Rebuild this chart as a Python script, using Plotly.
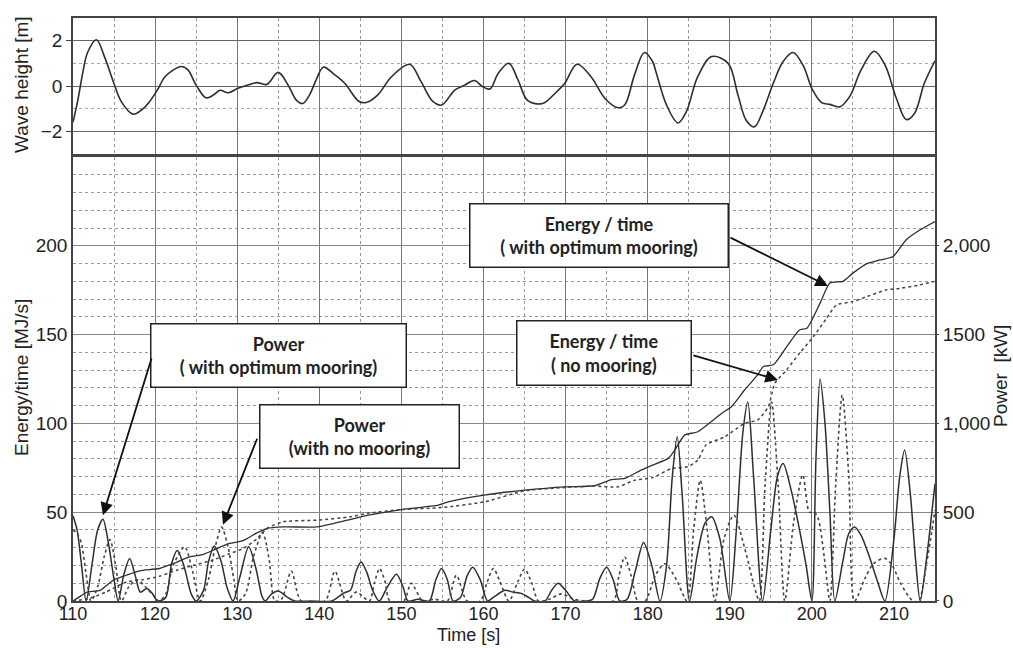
import plotly.graph_objects as go

# ---------------- data ----------------
wave_t = [110.0, 110.6, 111.2, 111.8, 112.85, 113.9, 114.9, 115.9, 117.3, 118.3, 119.3, 120.4,
          121.2, 123.2, 124.0, 125.0, 126.2, 127.1, 127.9, 128.9, 130.1, 131.3, 132.4, 133.6,
          135.0, 136.2, 137.2, 138.0, 138.8, 139.7, 140.5, 141.9, 143.1, 144.8, 145.7, 147.1,
          148.8, 151.0, 152.4, 153.8, 154.9, 156.5, 157.7, 158.9, 159.9, 160.8, 161.8, 163.1,
          164.2, 165.4, 167.2, 168.7, 169.9, 171.4, 173.1, 174.8, 176.4, 177.2, 178.4, 179.6,
          180.6, 181.0, 182.3, 183.7, 184.7, 186.1, 187.8, 189.8, 191.0, 192.0, 193.0, 194.0,
          195.3, 196.5, 197.7, 198.9, 200.1, 201.2, 202.2, 203.4, 204.6, 206.0, 207.6, 208.9,
          210.3, 211.5, 212.5, 213.7, 215.0]
wave_h = [-1.6, -0.6, 0.6, 1.5, 2.04, 1.23, 0.2, -0.7, -1.24, -1.07, -0.7, -0.1,
          0.41, 0.86, 0.71, 0.04, -0.52, -0.4, -0.19, -0.3, -0.1, 0.04, 0.15, 0.07,
          0.6, 0.04, -0.62, -0.77, -0.4, 0.34, 0.83, 0.49, 0.12, -0.67, -0.73, -0.4,
          0.41, 0.96, 0.19, -0.67, -0.84, -0.18, 0.04, 0.24, -0.03, -0.13, 0.56, 1.0,
          0.27, -0.65, -0.77, -0.33, 0.12, 0.96, 0.41, -0.55, -0.96, -0.84, 0.49, 1.48,
          1.08, 0.64, -0.84, -1.63, -1.14, 0.41, 1.3, 1.0, -0.4, -1.51, -1.8, -1.14,
          0.12, 1.08, 1.48, 0.93, -0.18, -0.73, -0.81, -0.92, -0.47, 0.71, 1.53, 0.93,
          -0.55, -1.48, -1.21, 0.12, 1.11]

# Power with optimum mooring [kW]
pow_opt_t = [110.0, 110.5, 111.0, 111.6, 112.3, 113.0, 113.65, 114.3, 115.0, 115.5, 116.2, 116.9,
             117.6, 118.2, 119.0, 119.7, 120.3, 121.3, 122.0, 122.7, 123.5, 124.4, 125.0, 125.9,
             126.5, 127.2, 128.0, 128.8, 129.5, 130.3, 131.4, 132.3, 133.0, 133.4, 134.2, 135.0,
             136.0, 137.0, 139.0, 141.5, 143.0, 143.8, 144.5, 145.1, 145.8, 146.5, 147.3, 148.3,
             149.4, 150.2, 150.8, 152.0, 153.4, 154.2, 154.9, 155.6, 156.3, 157.2, 158.0, 158.7,
             159.6, 160.5, 161.2, 162.6, 163.6, 164.6, 165.5, 166.2, 167.5, 168.3, 169.1, 170.0,
             171.1, 172.5, 173.3, 174.2, 175.0, 175.8, 176.6, 177.5, 178.5, 179.5, 180.5, 181.5,
             182.3, 183.0, 183.6, 184.2, 185.1, 186.0, 187.0, 187.8, 188.8, 190.0, 190.8, 191.6,
             192.2, 192.9, 194.0, 195.0, 195.8, 196.5, 197.5, 198.5, 199.3, 200.0, 200.5, 201.0,
             201.6, 202.2, 202.8, 203.8, 204.5, 205.2, 206.0, 207.0, 208.0, 208.9, 210.0, 210.7,
             211.3, 212.0, 212.6, 213.2, 214.0, 214.5, 215.0]
pow_opt_v = [480, 400, 220, 0, 200, 400, 460, 330, 120, 0, 150, 240,
             140, 50, 70, 40, 0, 20, 210, 285, 200, 40, 0, 60,
             220, 310, 230, 70, 0, 130, 305, 180, 30, 0, 40, 56,
             25, 0, 0, 0, 45, 60, 170, 220, 160, 60, 0, 80,
             150, 80, 0, 10, 0, 120, 183, 120, 0, 20, 140, 190,
             120, 0, 20, 60, 50, 43, 20, 0, 0, 60, 100, 60,
             0, 0, 10, 130, 190, 120, 0, 10, 170, 330, 200, 0,
             200, 700, 925, 600, 0, 250, 440, 474, 350, 0, 400, 950,
             1120, 700, 0, 400, 700, 774, 620, 400, 200, 0, 800, 1250,
             1000, 500, 0, 230, 380, 417, 370, 250, 110, 0, 350, 700,
             850, 600, 250, 0, 250, 450, 660]

# Power with no mooring [kW]
pow_no_t = [110.0, 110.5, 111.0, 111.6, 112.2, 113.0, 113.8, 114.5, 115.2, 115.9, 116.8, 117.8,
            118.8, 119.8, 120.5, 121.3, 122.2, 123.6, 124.5, 125.5, 126.5, 127.3, 128.1, 128.9,
            129.6, 130.1, 131.0, 132.0, 133.1, 133.9, 134.6, 135.4, 136.6, 137.8, 140.7, 141.9,
            143.3, 144.5, 146.1, 146.7, 147.35, 148.0, 148.6, 150.3, 151.2, 152.6, 154.0, 155.6,
            156.7, 158.0, 159.6, 160.4, 161.2, 162.0, 163.1, 164.2, 165.0, 165.9, 166.7, 168.0,
            169.5, 171.0, 172.5, 175.8, 176.5, 177.2, 178.0, 178.8, 179.7, 181.0, 182.1, 183.5,
            184.8, 185.6, 186.4, 187.2, 188.2, 189.3, 190.5, 191.8, 193.0, 193.6, 194.3, 195.1,
            195.9, 196.7, 197.8, 198.9, 199.7, 200.3, 200.8, 201.5, 202.2, 202.9, 203.7, 204.5,
            205.2, 206.5, 207.5, 208.9, 209.8, 210.8, 212.3, 213.0, 214.0, 215.0]
pow_no_v = [400, 380, 330, 150, 0, 80, 250, 346, 200, 0, 80, 120,
            80, 30, 0, 40, 200, 305, 180, 0, 120, 300, 416, 300,
            120, 0, 40, 250, 385, 230, 0, 10, 168, 0, 0, 168,
            0, 50, 0, 100, 183, 110, 0, 0, 100, 0, 10, 0,
            145, 0, 0, 100, 183, 110, 0, 110, 180, 100, 0, 10,
            40, 10, 0, 0, 140, 248, 140, 0, 0, 150, 210, 120,
            0, 400, 680, 420, 0, 350, 483, 300, 80, 0, 650, 1120,
            650, 0, 450, 710, 500, 500, 460, 250, 0, 650, 1160, 700,
            0, 130, 210, 240, 200, 100, 0, 0, 220, 510]

# Energy / time with optimum mooring [MJ/s]
en_opt_t = [110, 111, 111.7, 113.3, 114.9, 116.5, 118.1, 120.5, 122.2, 124.2, 125.9, 127.5,
            129.1, 130.7, 132.4, 133.6, 135.6, 139.7, 141.7, 144.2, 146, 150, 154.5, 155.7,
            160.1, 165, 169.9, 173.5, 175.6, 177.2, 179.2, 180.6, 182.5, 183.3, 184.5, 186.1,
            189, 190.2, 191.8, 193.4, 194.1, 195.3, 196.9, 198.5, 199.4, 201, 202.2, 203.8,
            205, 206.7, 208.3, 209.9, 211.5, 213.2, 215]
en_opt_v = [0, 3, 5, 6, 11.7, 14.5, 17, 18.3, 21, 24.8, 26.3, 29.5,
            32.4, 34, 38.4, 40.8, 41.7, 41.7, 43.6, 46.4, 48.3, 51.5, 54, 55.8,
            59.6, 62.4, 64.3, 64.9, 68.4, 69, 73.7, 76.5, 80.3, 85, 93.4, 95.3,
            105.6, 109.4, 118.8, 127.3, 132, 133, 143, 152.6, 153.6, 167.7, 179, 180,
            184.6, 190, 192, 194, 203.4, 209, 213.7]

# Energy / time with no mooring [MJ/s]
en_no_t = [110, 112, 114, 116.5, 118.5, 120.5, 122.6, 124.6, 127, 129.1, 130.7, 132.4,
           133.6, 135.6, 139.7, 143.8, 145.8, 150, 154.9, 160.1, 165, 169.9, 173.5, 176.4,
           178.4, 180.6, 182.9, 184.9, 186.1, 187.1, 189.4, 191.8, 193.4, 194.7, 195.5, 196.9,
           198.5, 200.2, 201.8, 203, 205, 206.7, 209.1, 210.7, 213.2, 215]
en_no_v = [0, 1.5, 5, 10.7, 12, 13.9, 17.3, 20, 23, 26.7, 29.5, 35,
           40.8, 44.6, 45.5, 47.4, 49.3, 51.5, 52.6, 55.8, 62, 63.9, 64.7, 64.3,
           68, 69.5, 74.6, 75.6, 79.3, 87.8, 92.5, 100, 101.9, 109.4, 122.6, 130,
           139.5, 148.9, 159.2, 166.7, 168.6, 171.4, 175.2, 176, 178, 180]

power_tickvals = [0, 500, 1000, 1500, 2000]
power_ticktext = ["0", "500", "1,000", "1500", "2,000"]

# ---------------- figure ----------------
SOLID = "#2e2e2e"
DASH = "#444444"
TICKFONT = dict(family="Liberation Sans, Arial, sans-serif", size=19, color="#222")
XTICKFONT = dict(family="Liberation Sans, Arial, sans-serif", size=18, color="#222")
BOXFONT = dict(family="Lato, Open Sans", size=18, color="#222")

fig = go.Figure()
fig.add_trace(go.Scatter(x=wave_t, y=wave_h, xaxis="x2", yaxis="y", mode="lines",
                         line=dict(color=SOLID, width=1.6, shape="spline", smoothing=1.0)))
fig.add_trace(go.Scatter(x=en_opt_t, y=en_opt_v, xaxis="x", yaxis="y2", mode="lines",
                         line=dict(color=SOLID, width=1.3, shape="spline", smoothing=0.6)))
fig.add_trace(go.Scatter(x=en_no_t, y=en_no_v, xaxis="x", yaxis="y2", mode="lines",
                         line=dict(color=DASH, width=1.5, dash="dot", shape="spline", smoothing=0.6)))
fig.add_trace(go.Scatter(x=pow_opt_t, y=pow_opt_v, xaxis="x", yaxis="y3", mode="lines",
                         line=dict(color=SOLID, width=1.5, shape="spline", smoothing=0.8)))
fig.add_trace(go.Scatter(x=pow_no_t, y=pow_no_v, xaxis="x", yaxis="y3", mode="lines",
                         line=dict(color=DASH, width=1.6, dash="dot", shape="spline", smoothing=0.8)))

frame = dict(showline=True, linecolor="#444", linewidth=1.5, mirror=True)

fig.update_layout(
    width=1013, height=648,
    margin=dict(l=73, r=78, t=18, b=47),
    paper_bgcolor="white", plot_bgcolor="white",
    showlegend=False,
    xaxis=dict(domain=[0, 1], anchor="y2", range=[110, 215], dtick=10, tick0=110,
               tickfont=XTICKFONT, ticks="", ticklabelstandoff=-4,
               showgrid=True, gridcolor="#777", gridwidth=1.2,
               minor=dict(dtick=5, tick0=110, showgrid=True, gridcolor="#999", gridwidth=1, griddash="dot"),
               zeroline=False, **frame),
    xaxis2=dict(domain=[0, 1], anchor="y", matches="x", range=[110, 215], dtick=10, tick0=110,
                showticklabels=False, ticks="", showgrid=True, gridcolor="#777", gridwidth=1.2,
                minor=dict(dtick=5, tick0=110, showgrid=True, gridcolor="#999", gridwidth=1, griddash="dot"),
                zeroline=False, **frame),
    yaxis=dict(domain=[0.7667, 1], anchor="x2", range=[-3, 3], tickvals=[-2, 0, 2],
               tickfont=TICKFONT, ticks="outside", ticklen=5, tickcolor="#444",
               showgrid=True, gridcolor="#666", gridwidth=1.2,
               minor=dict(dtick=1, tick0=-3, showgrid=True, gridcolor="#aaa", gridwidth=1, griddash="dot"),
               zeroline=False, **frame),
    yaxis2=dict(domain=[0, 0.7616], anchor="x", range=[0, 250], tickvals=[0, 50, 100, 150, 200],
                tickfont=TICKFONT, ticks="", showgrid=True, gridcolor="#888", gridwidth=1,
                minor=dict(dtick=10, tick0=0, showgrid=True, gridcolor="#999", gridwidth=1, griddash="dot"),
                zeroline=False, **frame),
    yaxis3=dict(overlaying="y2", anchor="x", side="right", range=[0, 2500],
                tickvals=power_tickvals, ticktext=power_ticktext, tickfont=TICKFONT,
                ticks="outside", ticklen=3, tickcolor="#444", showgrid=False, zeroline=False),
)

def paper_x(px):
    return (px - 73) / 862.0

def paper_y(py):
    return (601 - py) / 583.0

annotations = [
    dict(text="Wave height [m]", x=paper_x(21), y=paper_y(85), textangle=-90, size=19),
    dict(text="Energy/time [MJ/s]", x=paper_x(21), y=paper_y(378), textangle=-90, size=19),
    dict(text="Power\u00a0 [kW]", x=paper_x(1000), y=paper_y(376), textangle=-90, size=19),
    dict(text="Time [s]", x=paper_x(468), y=paper_y(635), textangle=0, size=18),
]
for a in annotations:
    size = a.pop("size")
    fig.add_annotation(xref="paper", yref="paper", showarrow=False,
                       xanchor="center", yanchor="middle",
                       font=dict(family="Liberation Sans, Arial, sans-serif", size=size, color="#222"), **a)

boxes = [
    ("<b>Power</b><br><b>( with optimum mooring)</b>", 135.09, 138.5, 254, 62),
    ("<b>Power</b><br><b>(with no mooring)</b>", 144.84, 92.9, 198, 62),
    ("<b>Energy / time</b><br><b>( with optimum mooring)</b>", 174.13, 205.6, 257, 62),
    ("<b>Energy / time</b><br><b>( no mooring)</b>", 174.74, 139.4, 173, 63),
]
for text, bx, by, w, h in boxes:
    fig.add_annotation(xref="x", yref="y2", x=bx, y=by, text=text, showarrow=False,
                       width=w, height=h, align="center", valign="middle",
                       bgcolor="white", bordercolor="#222", borderwidth=1.5, borderpad=0,
                       font=BOXFONT)

arrows = [
    (119.62, 137.4, 113.65, 48.3),
    (132.5, 92.2, 128.27, 43.0),
    (189.9, 205.0, 201.96, 177.4),
    (185.4, 138.5, 195.87, 124.5),
]
for ax_, ay_, tx, ty in arrows:
    fig.add_annotation(xref="x", yref="y2", axref="x", ayref="y2", x=tx, y=ty, ax=ax_, ay=ay_,
                       text="", showarrow=True, arrowhead=2, arrowsize=1.4, arrowwidth=1.8,
                       arrowcolor="#111")

fig.write_html("out.html")
